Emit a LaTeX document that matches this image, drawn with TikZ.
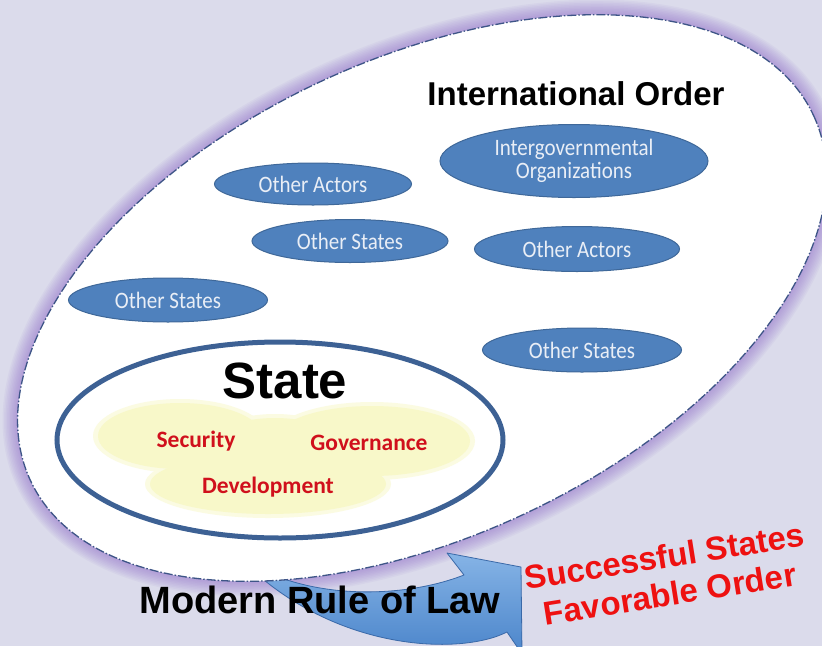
\documentclass[tikz,border=0pt]{standalone}
\usepackage{fontspec}
\setmainfont{Liberation Sans}
\newfontfamily\calib{Carlito}
\usetikzlibrary{shapes.geometric}
\definecolor{bgcol}{HTML}{DBDBEB}
\definecolor{glowcol}{HTML}{9470CC}
\definecolor{dashcol}{HTML}{3E5587}
\definecolor{ellfill}{HTML}{4F81BD}
\definecolor{elldraw}{HTML}{3F6899}
\definecolor{elltext}{HTML}{E9EEF6}
\definecolor{stateblue}{HTML}{3D6194}
\definecolor{cloudin}{HTML}{F8F8C9}
\definecolor{cloudout}{HTML}{FBFBE2}
\definecolor{redtxt}{HTML}{D0101C}
\definecolor{brightred}{HTML}{EE1111}
\definecolor{arrowtop}{HTML}{86B4E6}
\definecolor{arrowbot}{HTML}{4A84CA}
\definecolor{arrowline}{HTML}{3A69A8}
\newcommand\tallt[1]{\scalebox{1}[1.12]{#1}}
\tikzset{
  blob/.style={ellipse, draw=elldraw, fill=ellfill, line width=1pt, inner sep=0pt,
    text=elltext, font=\calib\fontsize{21}{25}\selectfont, align=center},
  bigtitle/.style={font=\bfseries\fontsize{33}{38}\selectfont, text=black, anchor=base, inner sep=0pt},
  redword/.style={font=\calib\bfseries\fontsize{23.5}{26}\selectfont, text=redtxt, anchor=base, inner sep=0pt},
  bigring/.style={rotate around={25:(422,298)}},
}
\begin{document}
\begin{tikzpicture}[x=1pt,y=-1pt]
\useasboundingbox (0,0) rectangle (822,646);
\fill[bgcol] (0,0) rectangle (822,646);
\begin{scope}
\clip (0,0) rectangle (822,646);
% purple glow round the international order
\foreach \w in {30,27,24,21,18,15,12,9,6,3}{
  \draw[glowcol, line width=\w pt, opacity=0.07, bigring] (422,298) ellipse [x radius=432, y radius=239];
}
% curved arrow
\coordinate (tail) at (238,556);
\coordinate (ub) at (447,553);
\coordinate (tip) at (521,567);
\coordinate (lb) at (522,654);
\draw[top color=arrowtop, bottom color=arrowbot, draw=arrowline, line width=0.8pt, line join=round]
  (tail) .. controls (300,600) and (400,600) .. (464,575) -- (ub) -- (tip) -- (lb) -- (507,632)
  .. controls (460,656) and (330,652) .. (tail) -- cycle;
% international order ellipse
\draw[fill=white, draw=dashcol, line width=1.3pt, dash pattern=on 9pt off 2pt on 1.5pt off 2pt, bigring]
  (422,298) ellipse [x radius=432, y radius=239];
\end{scope}

\node[bigtitle] (io) at (576,105) {International Order};

\node[blob, minimum width=197, minimum height=42] (oa1) at (313,184) {\tallt{Other Actors}};
\node[blob, minimum width=196, minimum height=43] (os1) at (350,241) {\tallt{Other States}};
\node[blob, minimum width=199, minimum height=44] (os2) at (168,300) {\tallt{Other States}};
\node[blob, minimum width=268, minimum height=73] (igo) at (574,161) {\tallt{Intergovernmental}\\[-2pt]\tallt{Organizations}};
\node[blob, minimum width=205, minimum height=45] (oa2) at (577,249) {\tallt{Other Actors}};
\node[blob, minimum width=199, minimum height=44] (os3) at (582,350) {\tallt{Other States}};

% state
\node[ellipse, draw=stateblue, line width=5pt, fill=white, minimum width=446, minimum height=196, inner sep=0pt] (stateell) at (280,440) {};
% cloud
\begin{scope}
\fill[cloudout] (180,436) ellipse [x radius=87, y radius=37];
\fill[cloudout] (372,441) ellipse [x radius=103, y radius=39];
\fill[cloudout] (268,484) ellipse [x radius=123, y radius=34];
\fill[cloudout] (275,450) ellipse [x radius=75, y radius=36];
\fill[cloudin] (180,436) ellipse [x radius=82, y radius=33];
\fill[cloudin] (372,441) ellipse [x radius=98, y radius=35];
\fill[cloudin] (268,484) ellipse [x radius=118, y radius=30];
\fill[cloudin] (275,450) ellipse [x radius=70, y radius=32];
\end{scope}
\node[font=\bfseries\fontsize{51}{56}\selectfont, anchor=base, inner sep=0pt] (statetxt) at (285,398) {State};
\node[redword] (sec) at (196,447) {Security};
\node[redword] (gov) at (369,450) {Governance};
\node[redword] (dev) at (268,493) {Development};

\node[font=\bfseries\fontsize{38}{42}\selectfont, anchor=base, inner sep=0pt] (mrl) at (320,613) {Modern Rule of Law};
\node[font=\bfseries\fontsize{33}{38}\selectfont, text=brightred, align=center, rotate=9, inner sep=0pt] (succ) at (667,575) {Successful States\\Favorable Order};
\end{tikzpicture}
\end{document}
